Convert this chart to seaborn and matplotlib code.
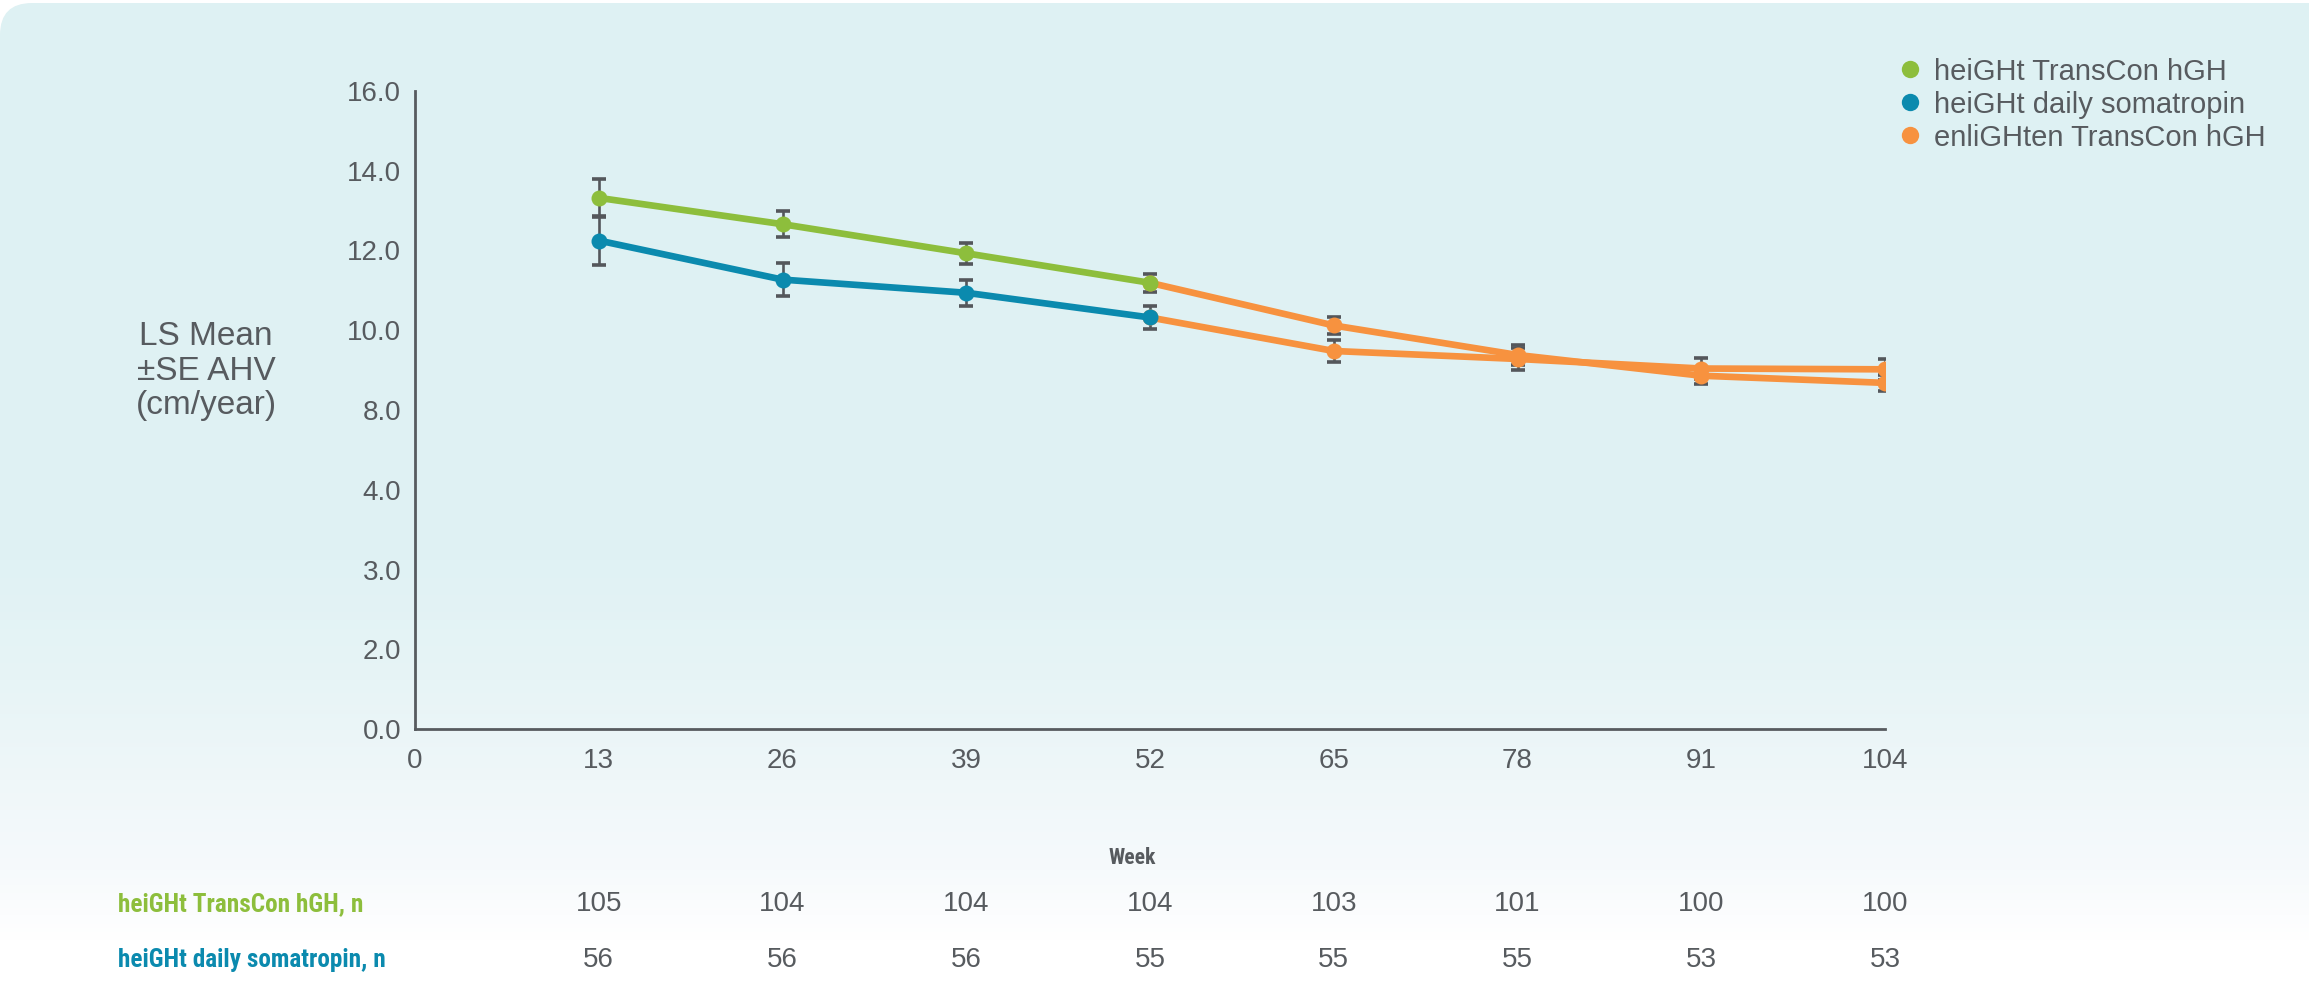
import numpy as np
import pandas as pd
import matplotlib
matplotlib.use("Agg")
import matplotlib.pyplot as plt
import matplotlib.transforms as mtransforms
import seaborn as sns
from matplotlib.lines import Line2D
from matplotlib.patches import FancyBboxPatch
from matplotlib.colors import to_rgb
from matplotlib import font_manager
from matplotlib.font_manager import FontProperties

# ---- data -------------------------------------------------------------
x_ticks = [0, 13, 26, 39, 52, 65, 78, 91, 104]
y_tick_pos = [0, 2, 4, 6, 8, 10, 12, 14, 16]
y_tick_labels = ["0.0", "2.0", "3.0", "4.0", "8.0", "10.0", "12.0", "14.0", "16.0"]

heig_weeks = [13, 26, 39, 52]
heig_transcon_mean = [13.32, 12.66, 11.93, 11.19]
heig_transcon_se = [0.48, 0.33, 0.27, 0.23]
heig_daily_mean = [12.25, 11.27, 10.94, 10.32]
heig_daily_se = [0.62, 0.42, 0.32, 0.30]

enl_weeks = [52, 65, 78, 91, 104]
enl_from_transcon_mean = [11.19, 10.12, 9.38, 8.86, 8.68]
enl_from_transcon_se = [0.23, 0.22, 0.25, 0.22, 0.20]
enl_from_daily_mean = [10.32, 9.48, 9.28, 9.04, 9.02]
enl_from_daily_se = [0.30, 0.28, 0.28, 0.27, 0.26]

n_weeks = [13, 26, 39, 52, 65, 78, 91, 104]
n_transcon = [105, 104, 104, 104, 103, 101, 100, 100]
n_daily = [56, 56, 56, 55, 55, 55, 53, 53]

series_names = ["heiGHt TransCon hGH", "heiGHt daily somatropin", "enliGHten TransCon hGH"]
row_captions = ["heiGHt TransCon hGH, n", "heiGHt daily somatropin, n"]

# ---- style ------------------------------------------------------------
GREEN = "#8DBE3C"
BLUE = "#0B8AAE"
ORANGE = "#F7923F"
GREY = "#575B5F"
ERR = "#54575B"

sns.set_theme(style="white")
available = {f.name for f in font_manager.fontManager.ttflist}
base_font = "Liberation Sans" if "Liberation Sans" in available else "DejaVu Sans"
plt.rcParams["font.family"] = [base_font, "DejaVu Sans"]


def _is_bold(w):
    return w in ("bold", "heavy", "black", "semibold", "demibold") or (isinstance(w, int) and w >= 600)


def _pick_condensed_bold():
    """Return the path of the best condensed bold sans face that is installed."""
    prefs = ["Liberation Sans Narrow", "Roboto Condensed", "Open Sans Condensed",
             "Noto Sans", "Open Sans", "Roboto", "Lato", "DejaVu Sans"]
    found = []
    for f in font_manager.fontManager.ttflist:
        tag = (f.name + " " + f.fname.split("/")[-1]).replace("-", " ")
        if "Italic" in tag or "Oblique" in tag or "Mono" in tag or "Serif" in tag:
            continue
        if "Extra" in tag or "Ultra" in tag or "Semi" in tag:
            continue
        narrow = ("Narrow" in tag or "Condensed" in tag
                  or f.stretch in ("condensed", "semi-condensed"))
        if narrow and _is_bold(f.weight) and "Black" not in tag and "Extra" not in tag:
            rank = next((i for i, p in enumerate(prefs) if p in f.name), len(prefs))
            found.append((rank, f.fname))
    return sorted(found)[0][1] if found else None


W, H = 2309, 993
fig = plt.figure(figsize=(W / 100, H / 100), dpi=100)
fig.patch.set_facecolor("white")
renderer = fig.canvas.get_renderer()

cond_path = _pick_condensed_bold()


def _caption_props(text, width_px, fallback_size):
    """Size the condensed face so the caption spans the given width."""
    if cond_path is None:
        return FontProperties(family=base_font, weight="bold", size=fallback_size)
    probe = fig.text(0, 0, text, fontproperties=FontProperties(fname=cond_path, size=20))
    w = probe.get_window_extent(renderer).width
    probe.remove()
    return FontProperties(fname=cond_path, size=min(20 * width_px / w, 20))


cap_props = _caption_props(row_captions[0], 245, 15.2)
week_props = _caption_props("Week", 47, 15.5)

# background card with vertical gradient and rounded top-left corner
bg = fig.add_axes([0, 0, 1, 1], zorder=-10)
bg.set_xlim(0, W)
bg.set_ylim(0, H)
bg.axis("off")
stops = [(0, "#DEF1F3"), (560, "#E0F2F4"), (680, "#E7F4F6"),
         (780, "#EFF7F9"), (870, "#F6FAFC"), (915, "#FCFDFE"), (940, "#FFFFFF"), (H, "#FFFFFF")]
rows = np.arange(H)
grad = np.zeros((H, 1, 3))
for c in range(3):
    grad[:, 0, c] = np.interp(rows, [s[0] for s in stops], [to_rgb(s[1])[c] for s in stops])
im = bg.imshow(grad, aspect="auto", extent=[0, W, 0, H], origin="upper", interpolation="bilinear")
card = FancyBboxPatch((0, -100), W + 100, H - 3 + 100,
                      boxstyle="round,pad=0,rounding_size=32",
                      transform=bg.transData, facecolor="none", edgecolor="none")
bg.add_patch(card)
im.set_clip_path(card)

# ---- main axes ----------------------------------------------------------
ax = fig.add_axes([415 / W, 1 - 729 / H, (1885 - 415) / W, (729 - 91) / H])
ax.set_facecolor("none")

df_tc = pd.DataFrame({"week": heig_weeks, "mean": heig_transcon_mean})
df_dl = pd.DataFrame({"week": heig_weeks, "mean": heig_daily_mean})
df_e1 = pd.DataFrame({"week": enl_weeks, "mean": enl_from_transcon_mean})
df_e2 = pd.DataFrame({"week": enl_weeks, "mean": enl_from_daily_mean})

lw = 4.8
ms = 11.5
for d in (df_e1, df_e2):
    sns.lineplot(data=d, x="week", y="mean", color=ORANGE, marker="o", markersize=ms,
                 markeredgewidth=0, linewidth=lw, ax=ax, zorder=3)
for d, c in ((df_tc, GREEN), (df_dl, BLUE)):
    sns.lineplot(data=d, x="week", y="mean", color=c, marker="o", markersize=ms,
                 markeredgewidth=0, linewidth=lw, ax=ax, zorder=4)

err_kw = dict(fmt="none", ecolor=ERR, elinewidth=1.9, capsize=4.7, capthick=2.6, zorder=2.5)
ax.errorbar(heig_weeks, heig_transcon_mean, yerr=heig_transcon_se, **err_kw)
ax.errorbar(heig_weeks, heig_daily_mean, yerr=heig_daily_se, **err_kw)
ax.errorbar(enl_weeks[1:], enl_from_transcon_mean[1:], yerr=enl_from_transcon_se[1:], **err_kw)
ax.errorbar(enl_weeks[1:], enl_from_daily_mean[1:], yerr=enl_from_daily_se[1:], **err_kw)

ax.set_xlim(0, 104)
ax.set_ylim(0, 16)
ax.set_xticks(x_ticks)
ax.set_xticklabels([str(t) for t in x_ticks])
ax.set_yticks(y_tick_pos)
ax.set_yticklabels(y_tick_labels)
ax.set_xlabel("")
ax.set_ylabel("")
for s in ("top", "right"):
    ax.spines[s].set_visible(False)
for s in ("left", "bottom"):
    ax.spines[s].set_color(GREY)
    ax.spines[s].set_linewidth(2.0)
ax.tick_params(axis="x", direction="in", length=8, width=1.4, color=GREY,
               labelsize=20, labelcolor=GREY, pad=14)
ax.tick_params(axis="y", length=0, labelsize=20, labelcolor=GREY, pad=10)
ax.grid(False)

# y-axis title
fig.text(206 / W, 1 - 371 / H, "LS Mean\n±SE AHV\n(cm/year)", ha="center", va="center",
         fontsize=24, color=GREY, linespacing=1.15)

# legend
handles = [Line2D([], [], marker="o", linestyle="", color=c, markersize=12.5, markeredgewidth=0)
           for c in (GREEN, BLUE, ORANGE)]
fig.legend(handles, series_names, loc="upper left", bbox_to_anchor=(1884 / W, 1 - 46 / H),
           frameon=False, fontsize=21, labelcolor=GREY, handletextpad=0.3,
           handlelength=1.0, labelspacing=0.17, borderaxespad=0)

# x-axis title and numbers at risk
fig.text(1132 / W, 1 - 858 / H, "Week", ha="center", va="center",
         fontproperties=week_props, color=GREY)
row_tf = mtransforms.blended_transform_factory(ax.transData, fig.transFigure)
fig.text(118 / W, 1 - 904 / H, row_captions[0], ha="left", va="center",
         fontproperties=cap_props, color=GREEN)
fig.text(118 / W, 1 - 960 / H, row_captions[1], ha="left", va="center",
         fontproperties=cap_props, color=BLUE)
for wk, a, b in zip(n_weeks, n_transcon, n_daily):
    ax.text(wk, 1 - 904 / H, str(a), transform=row_tf, ha="center", va="center",
            fontsize=20, color=GREY)
    ax.text(wk, 1 - 960 / H, str(b), transform=row_tf, ha="center", va="center",
            fontsize=20, color=GREY)

fig.savefig("out.png", dpi=100, facecolor=fig.get_facecolor())
